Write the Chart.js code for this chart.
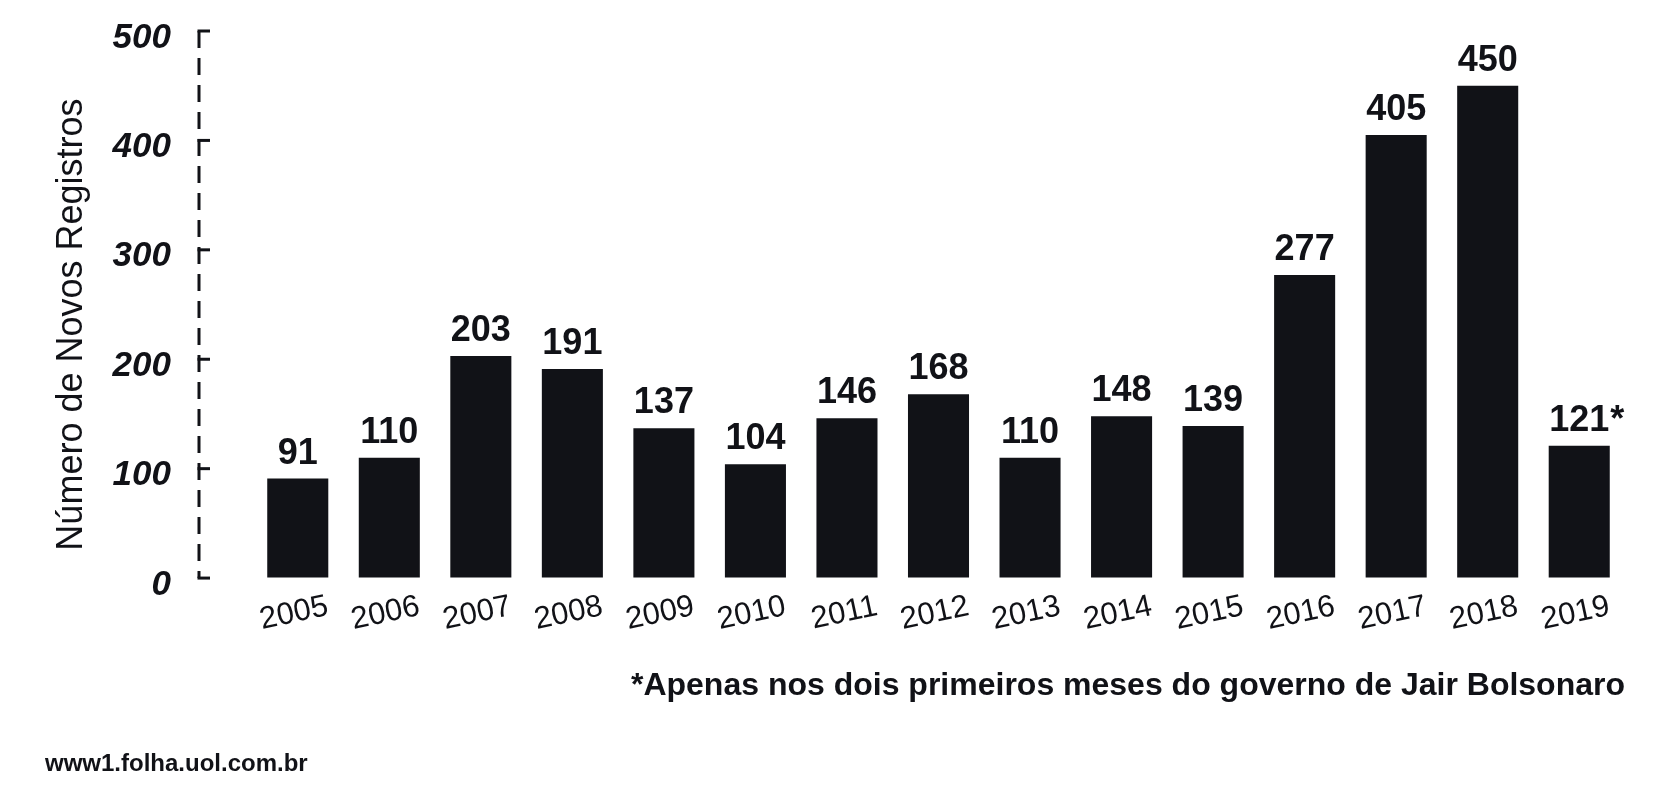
<!DOCTYPE html>
<html lang="pt-BR">
<head>
<meta charset="utf-8">
<title>Número de Novos Registros</title>
<script src="https://cdn.jsdelivr.net/npm/chart.js@4.4.1/dist/chart.umd.min.js"></script>
<style>
  html, body { margin: 0; padding: 0; background: #fff; }
  #wrap { width: 1668px; height: 800px; }
</style>
</head>
<body>
<div id="wrap"><canvas id="chart"></canvas></div>
<script>
const years = ["2005", "2006", "2007", "2008", "2009", "2010", "2011", "2012",
  "2013", "2014", "2015", "2016", "2017", "2018", "2019"];
const newRegistrations = [91, 110, 203, 191, 137, 104, 146, 168, 110, 148, 139, 277, 405, 450, 121];
const valueMarks = ["", "", "", "", "", "", "", "", "", "", "", "", "", "", "*"];
const yTicks = [0, 100, 200, 300, 400, 500];
const yAxisTitle = "Número de Novos Registros";
const footnote = "*Apenas nos dois primeiros meses do governo de Jair Bolsonaro";
const source = "www1.folha.uol.com.br";

const ink = "#111217";
const family = "'Liberation Sans', Arial, Helvetica, sans-serif";

// dashed y axis line sitting a bit left of the bars, ticks pointing inwards,
// plus the axis title (sits a little below the middle in the original)
const dashedAxis = {
  id: "dashedAxis",
  afterDraw(chart) {
    const { ctx, chartArea, scales: { y } } = chart;
    const x = chartArea.left - 53;
    const top = y.getPixelForValue(yTicks[yTicks.length - 1]);
    const bottom = y.getPixelForValue(yTicks[0]);
    ctx.save();
    ctx.strokeStyle = ink;
    ctx.lineWidth = 3;
    ctx.setLineDash([17, 10]);
    ctx.beginPath();
    ctx.moveTo(x, top);
    ctx.lineTo(x, bottom);
    ctx.stroke();
    ctx.setLineDash([]);
    yTicks.forEach(v => {
      const py = y.getPixelForValue(v);
      ctx.beginPath();
      ctx.moveTo(x - 1.5, py);
      ctx.lineTo(x + 11, py);
      ctx.stroke();
    });

    ctx.translate(y.left + 27, (top + bottom) / 2 + 20);
    ctx.rotate(-Math.PI / 2);
    ctx.font = "36px " + family;
    ctx.fillStyle = ink;
    ctx.textAlign = "center";
    ctx.textBaseline = "middle";
    ctx.fillText(yAxisTitle, 0, 0);
    ctx.restore();
  }
};

// numbers above the bars
const barValues = {
  id: "barValues",
  afterDatasetsDraw(chart) {
    const { ctx } = chart;
    const meta = chart.getDatasetMeta(0);
    ctx.save();
    ctx.font = "bold 36px " + family;
    ctx.fillStyle = ink;
    ctx.textBaseline = "alphabetic";
    meta.data.forEach((bar, i) => {
      const txt = String(newRegistrations[i]);
      const w = ctx.measureText(txt).width;
      ctx.textAlign = "center";
      ctx.fillText(txt, bar.x, bar.y - 15);
      if (valueMarks[i]) {
        ctx.textAlign = "left";
        ctx.fillText(valueMarks[i], bar.x + w / 2 + 1, bar.y - 15);
      }
    });
    ctx.restore();
  }
};

new Chart(document.getElementById("chart"), {
  type: "bar",
  data: {
    labels: years,
    datasets: [
      {
        label: yAxisTitle,
        data: newRegistrations,
        backgroundColor: ink,
        borderWidth: 0,
        barPercentage: 0.667,
        categoryPercentage: 1,
      },
    ],
  },
  options: {
    responsive: true,
    maintainAspectRatio: false,
    animation: false,
    layout: { padding: { left: 45, right: 43, top: 31, bottom: 21 } },
    plugins: {
      legend: { display: false },
      tooltip: { enabled: false },
      title: {
        display: true,
        position: "bottom",
        align: "start",
        text: source,
        color: ink,
        font: { family: family, size: 24, weight: "bold" },
        padding: { top: 40, bottom: 0 },
      },
      subtitle: {
        display: true,
        position: "bottom",
        align: "end",
        text: footnote,
        color: ink,
        font: { family: family, size: 32, weight: "bold" },
        padding: { top: 26, bottom: 5 },
      },
    },
    scales: {
      x: {
        grid: { display: false },
        border: { display: false },
        ticks: {
          autoSkip: false,
          minRotation: 12,
          maxRotation: 12,
          labelOffset: 30,
          padding: 2,
          color: ink,
          font: { family: family, size: 31 },
        },
      },
      y: {
        min: yTicks[0],
        max: yTicks[yTicks.length - 1],
        afterFit(scale) { scale.width = 207; },
        afterBuildTicks(scale) { scale.ticks = yTicks.map(v => ({ value: v })); },
        grid: { display: true, drawOnChartArea: false, drawTicks: true, tickLength: 78, color: "rgba(0,0,0,0)" },
        border: { display: false },
        ticks: {
          padding: 3,
          labelOffset: 7,
          color: ink,
          font: { family: family, size: 35, weight: "bold", style: "italic" },
        },
        title: { display: false },
      },
    },
  },
  plugins: [dashedAxis, barValues],
});
</script>
</body>
</html>
